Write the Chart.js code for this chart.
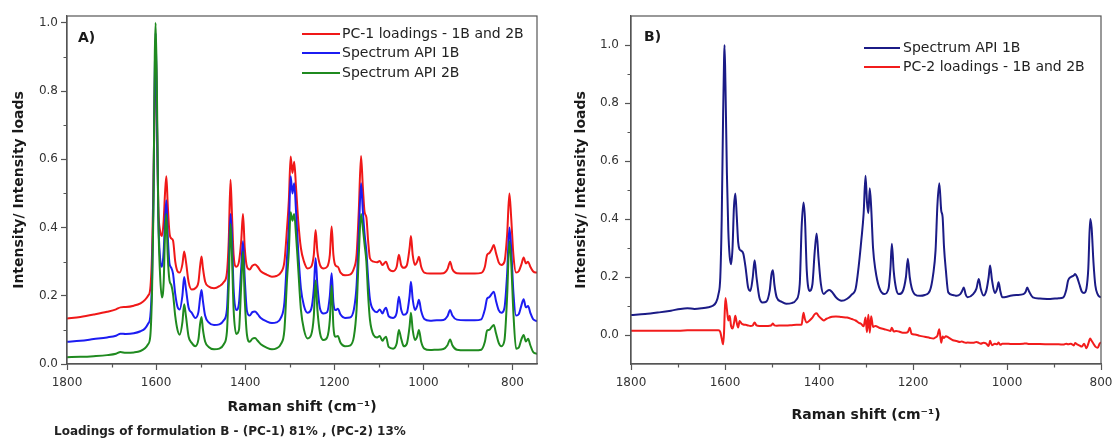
<!DOCTYPE html>
<html>
<head>
<meta charset="utf-8">
<script src="https://cdn.jsdelivr.net/npm/chart.js@4.4.1/dist/chart.umd.min.js"></script>
<style>
html,body{margin:0;padding:0;background:#fff;}
body{width:1113px;height:441px;position:relative;overflow:hidden;}
#ca{position:absolute;left:0;top:0;}
#cb{position:absolute;left:556px;top:0;}
#cap{position:absolute;left:54px;top:424px;font:bold 12px "DejaVu Sans",sans-serif;color:#222;white-space:nowrap;}
</style>
</head>
<body>
<canvas id="ca" width="556" height="441"></canvas>
<canvas id="cb" width="580" height="441"></canvas>
<div id="cap">Loadings of formulation B - (PC-1) 81% , (PC-2) 13%</div>
<script>
// ---------- Panel A data (Raman shift, cm-1) ----------
const shiftA = [
1800,1770,1740,1710,1690,1680,1668,1650,1635,1625,
1618,1613,1609,1606,1603,1601,1598,1595,1591,1587,
1583,1580,1577,1574,1570,1566,1562,1557,1552,1547,
1541,1537,1533,1527,1520,1512,1505,1501,1498,1495,
1490,1482,1470,1458,1448,1441,1437,1433,1430,1426,
1420,1414,1409,1405,1401,1396,1390,1384,1378,1372,
1365,1352,1340,1330,1320,1312,1306,1302,1298,1294,
1290,1286,1281,1275,1268,1260,1252,1246,1242,1238,
1232,1224,1216,1210,1206,1202,1197,1192,1186,1176,
1165,1156,1150,1145,1140,1136,1132,1128,1124,1120,
1112,1104,1098,1092,1088,1084,1078,1068,1060,1055,
1050,1044,1037,1031,1028,1024,1019,1014,1010,1005,
998,985,970,955,946,940,935,925,905,885,
870,862,857,852,847,842,837,831,825,818,
812,807,803,798,792,786,780,775,770,765,
760,754,748,745];
const pc1A = [
.133,.138,.145,.153,.160,.166,.167,.171,.178,.188,
.200,.222,.330,.520,.800,.950,.700,.460,.390,.375,
.420,.500,.550,.470,.385,.368,.362,.300,.272,.268,
.292,.330,.300,.240,.218,.222,.240,.290,.315,.282,
.242,.227,.222,.228,.240,.268,.360,.540,.450,.320,
.285,.300,.360,.440,.340,.285,.277,.288,.292,.285,
.272,.262,.256,.258,.268,.300,.400,.480,.608,.560,
.593,.520,.420,.340,.300,.280,.285,.320,.393,.330,
.290,.280,.285,.320,.403,.320,.288,.285,.268,.260,
.262,.280,.320,.450,.610,.520,.445,.430,.360,.310,
.300,.298,.302,.290,.295,.300,.280,.272,.285,.320,
.290,.282,.290,.340,.375,.320,.290,.300,.314,.285,
.268,.265,.265,.266,.278,.300,.278,.266,.265,.265,
.267,.285,.320,.325,.335,.349,.325,.298,.290,.300,
.380,.500,.430,.320,.268,.272,.292,.312,.295,.300,
.285,.272,.268,.268];
const api1bA = [
.065,.068,.073,.078,.083,.089,.088,.090,.096,.104,
.118,.140,.250,.480,.850,.970,.720,.430,.310,.285,
.330,.420,.480,.380,.295,.282,.265,.205,.168,.160,
.200,.255,.220,.165,.150,.135,.152,.196,.217,.186,
.142,.122,.114,.116,.128,.160,.280,.440,.380,.220,
.158,.178,.280,.360,.250,.155,.142,.152,.154,.146,
.135,.125,.120,.122,.135,.180,.315,.400,.550,.500,
.530,.450,.330,.222,.170,.150,.160,.220,.310,.232,
.162,.148,.152,.200,.266,.180,.158,.162,.145,.135,
.136,.160,.230,.380,.530,.450,.380,.330,.250,.190,
.158,.152,.160,.148,.158,.165,.140,.135,.150,.197,
.160,.144,.150,.200,.241,.190,.158,.170,.188,.155,
.132,.127,.128,.129,.140,.158,.142,.130,.128,.128,
.131,.160,.192,.196,.205,.212,.185,.158,.150,.165,
.265,.400,.340,.210,.142,.146,.172,.190,.166,.170,
.150,.132,.127,.125];
const api2bA = [
.020,.021,.023,.026,.030,.035,.033,.034,.038,.046,
.058,.082,.220,.450,.900,1.000,.780,.430,.260,.195,
.240,.380,.440,.320,.245,.232,.205,.140,.100,.086,
.122,.175,.140,.080,.062,.052,.072,.120,.138,.102,
.066,.050,.043,.045,.058,.095,.230,.410,.330,.160,
.088,.100,.230,.330,.190,.085,.065,.074,.076,.068,
.058,.048,.043,.046,.058,.100,.250,.330,.445,.420,
.440,.380,.280,.160,.100,.075,.085,.140,.245,.160,
.090,.070,.078,.130,.230,.110,.080,.082,.062,.052,
.054,.080,.160,.320,.440,.400,.350,.300,.200,.130,
.085,.078,.082,.068,.075,.080,.050,.045,.060,.100,
.075,.052,.060,.110,.150,.100,.070,.080,.100,.065,
.045,.041,.042,.044,.055,.072,.055,.042,.040,.040,
.042,.065,.098,.100,.108,.114,.090,.062,.052,.070,
.200,.360,.300,.150,.045,.048,.072,.085,.066,.074,
.055,.036,.031,.030];

// ---------- Panel B data ----------
const shiftB = [
1800,1770,1740,1715,1695,1680,1665,1650,1635,1626,
1619,1614,1610,1607,1604,1602,1601,1599,1596,1593,
1590,1587,1584,1581,1578,1575,1572,1569,1565,1561,
1556,1551,1546,1541,1537,1533,1527,1520,1512,1505,
1501,1498,1495,1490,1480,1470,1458,1448,1441,1437,
1433,1430,1426,1420,1414,1409,1405,1401,1396,1390,
1384,1378,1372,1364,1352,1340,1330,1322,1315,1310,
1305,1301,1298,1295,1292,1289,1285,1280,1272,1261,
1252,1248,1245,1241,1236,1230,1222,1215,1211,1207,
1203,1196,1185,1175,1164,1157,1152,1148,1144,1140,
1137,1134,1130,1125,1115,1107,1100,1096,1092,1088,
1084,1072,1065,1060,1056,1050,1044,1039,1036,1032,
1026,1021,1018,1014,1010,1000,993,980,965,960,
957,953,945,930,908,890,880,874,870,864,
858,855,851,846,841,836,831,827,823,820,
816,812,807,803,800];
const api1bB = [
.069,.072,.078,.084,.090,.092,.090,.092,.096,.101,
.113,.140,.200,.400,.760,.950,1.000,.860,.560,.360,
.270,.244,.300,.440,.488,.410,.320,.295,.290,.280,
.230,.165,.152,.198,.258,.200,.130,.112,.115,.152,
.210,.223,.175,.130,.115,.108,.110,.122,.175,.370,
.457,.405,.221,.152,.175,.290,.350,.265,.176,.141,
.150,.155,.148,.130,.118,.125,.140,.160,.245,.326,
.420,.549,.460,.420,.506,.440,.300,.225,.164,.141,
.160,.230,.315,.220,.160,.141,.150,.200,.263,.200,
.164,.140,.135,.138,.153,.210,.292,.450,.523,.430,
.407,.303,.222,.147,.138,.135,.140,.150,.164,.140,
.130,.141,.160,.193,.160,.136,.153,.200,.240,.190,
.145,.160,.182,.150,.130,.132,.135,.138,.141,.150,
.164,.150,.130,.126,.124,.127,.130,.155,.188,.200,
.205,.210,.200,.175,.150,.145,.160,.230,.400,.370,
.250,.170,.140,.132,.130];
const pc2B = [
.015,.015,.015,.015,.015,.016,.016,.016,.016,.016,
.016,.016,.010,-.012,-.032,.010,.060,.128,.090,.050,
.066,.030,.022,.040,.066,.042,.026,.048,.040,.036,
.035,.033,.031,.033,.043,.033,.031,.031,.031,.032,
.034,.040,.033,.032,.033,.033,.034,.035,.035,.036,
.077,.055,.043,.050,.060,.072,.075,.066,.058,.050,
.056,.060,.063,.064,.062,.060,.055,.050,.042,.038,
.030,.060,.010,.070,.008,.065,.028,.031,.025,.020,
.016,.014,.025,.012,.014,.012,.008,.008,.010,.025,
.004,.002,-.003,-.006,-.010,-.012,-.008,-.002,.020,-.027,
-.005,-.010,-.004,-.008,-.018,-.021,-.024,-.022,-.025,-.027,
-.026,-.027,-.024,-.027,-.030,-.027,-.030,-.038,-.020,-.035,
-.030,-.032,-.026,-.034,-.030,-.030,-.031,-.031,-.030,-.029,
-.030,-.031,-.031,-.031,-.032,-.032,-.033,-.030,-.032,-.030,
-.036,-.028,-.032,-.036,-.040,-.030,-.046,-.030,-.012,-.020,
-.030,-.040,-.044,-.030,-.025];

// ---------- ticks & labels ----------
const xTicks = [1800,1600,1400,1200,1000,800];
const xMinor = [1700,1500,1300,1100,900];
const yTicks = [0,0.2,0.4,0.6,0.8,1.0];
const yMinorA = [0.1,0.3,0.5,0.7,0.9];
const yMinorB = [0.1,0.3,0.5,0.7,0.9];
const legendA = ['PC-1 loadings - 1B and 2B','Spectrum API 1B','Spectrum API 2B'];
const legendB = ['Spectrum API 1B','PC-2 loadings - 1B and 2B'];
const xTitle = 'Raman shift (cm\u207B\u00B9)';
const yTitle = 'Intensity/ Intensity loads';

const FONT = '"DejaVu Sans", sans-serif';
const AXIS = '#555555';
const C = {red:'#f01818', blue:'#1c1cf2', green:'#1f8a1f', navy:'#1b1b86', red2:'#f21c1c'};

const pts = (xs, ys) => xs.map((x, i) => ({x: x, y: ys[i]}));

const decor = {
  id: 'decor',
  afterDatasetsDraw(chart, args, o) {
    const ctx = chart.ctx, a = chart.chartArea;
    const sx = chart.scales.x, sy = chart.scales.y;
    ctx.save();
    ctx.strokeStyle = AXIS; ctx.lineWidth = 1.2;
    ctx.strokeRect(a.left, a.top, a.right - a.left, a.bottom - a.top);
    ctx.beginPath();
    o.xMinor.forEach(v => { const p = Math.round(sx.getPixelForValue(v)) + 0.5; ctx.moveTo(p, a.bottom); ctx.lineTo(p, a.bottom + 3.5); });
    o.yMinor.forEach(v => { const p = Math.round(sy.getPixelForValue(v)) + 0.5; ctx.moveTo(a.left, p); ctx.lineTo(a.left - 3.5, p); });
    ctx.stroke();
    ctx.fillStyle = '#1a1a1a';
    ctx.font = 'bold 14px ' + FONT;
    ctx.textBaseline = 'middle'; ctx.textAlign = 'left';
    ctx.fillText(o.panel, a.left + o.panelDx, o.panelY);
    ctx.font = '14px ' + FONT;
    o.items.forEach((idx, i) => {
      const ds = chart.data.datasets[idx];
      const y = o.rows[i];
      ctx.strokeStyle = ds.borderColor; ctx.lineWidth = 2.2;
      ctx.beginPath(); ctx.moveTo(o.x0, y); ctx.lineTo(o.x1, y); ctx.stroke();
      ctx.fillStyle = '#222';
      ctx.fillText(ds.label, o.tx, y);
    });
    ctx.restore();
  }
};

function makeScales(xMin, yMin, yMax, xH, yW, xPad, yPad, yTitlePad) {
  return {
    x: {
      type: 'linear', reverse: true, min: xMin, max: 1800,
      afterBuildTicks: s => { s.ticks = xTicks.map(v => ({value: v})); },
      afterFit: s => { s.height = xH; },
      ticks: {padding: xPad, color: '#333', font: {family: FONT, size: 12}, maxRotation: 0, autoSkip: false,
              callback: v => String(v)},
      grid: {drawOnChartArea: false, drawTicks: true, tickLength: 6, tickColor: AXIS, tickWidth: 1.2},
      border: {display: true, color: AXIS, width: 1.2},
      title: {display: true, text: xTitle, color: '#1a1a1a', font: {family: FONT, size: 14, weight: 'bold'},
              padding: {top: 0, bottom: 0}}
    },
    y: {
      type: 'linear', min: yMin, max: yMax,
      afterBuildTicks: s => { s.ticks = yTicks.map(v => ({value: v})); },
      afterFit: s => { s.width = yW; },
      ticks: {padding: yPad, color: '#333', font: {family: FONT, size: 12}, callback: v => Number(v).toFixed(1)},
      grid: {drawOnChartArea: false, drawTicks: true, tickLength: 6, tickColor: AXIS, tickWidth: 1.2},
      border: {display: true, color: AXIS, width: 1.2},
      title: {display: true, text: yTitle, color: '#1a1a1a', font: {family: FONT, size: 14, weight: 'bold'},
              padding: {top: yTitlePad, bottom: 0}}
    }
  };
}

const lineDs = (label, data, color) => ({label: label, data: data, borderColor: color, backgroundColor: color,
  borderWidth: 2, pointRadius: 0, cubicInterpolationMode: 'monotone', fill: false, borderJoinStyle: 'round'});

new Chart(document.getElementById('ca'), {
  type: 'line',
  data: {datasets: [
    lineDs(legendA[2], pts(shiftA, api2bA), C.green),
    lineDs(legendA[1], pts(shiftA, api1bA), C.blue),
    lineDs(legendA[0], pts(shiftA, pc1A), C.red)
  ]},
  options: {
    responsive: false, animation: false, events: [],
    layout: {padding: {top: 16, right: 19, bottom: 25, left: 0}},
    plugins: {legend: {display: false}, tooltip: {enabled: false},
      decor: {xMinor: xMinor, yMinor: yMinorA, panel: 'A)', panelDx: 11, panelY: 38,
              items: [2, 1, 0], rows: [34, 53, 73], x0: 302, x1: 340, tx: 342}},
    scales: makeScales(745, 0, 1.02, 52, 67, 6, 3, 10.6)
  },
  plugins: [decor]
});

new Chart(document.getElementById('cb'), {
  type: 'line',
  data: {datasets: [
    lineDs(legendB[1], pts(shiftB, pc2B), C.red2),
    lineDs(legendB[0], pts(shiftB, api1bB), C.navy)
  ]},
  options: {
    responsive: false, animation: false, events: [],
    layout: {padding: {top: 16, right: 35, bottom: 17.6, left: 0}},
    plugins: {legend: {display: false}, tooltip: {enabled: false},
      decor: {xMinor: xMinor, yMinor: yMinorB, panel: 'B)', panelDx: 13, panelY: 37,
              items: [1, 0], rows: [48, 67], x0: 864 - 556, x1: 900 - 556, tx: 903 - 556}},
    scales: makeScales(800, -0.1, 1.1, 59.4, 75, 6, 6, 16.6)
  },
  plugins: [decor]
});
</script>
</body>
</html>
